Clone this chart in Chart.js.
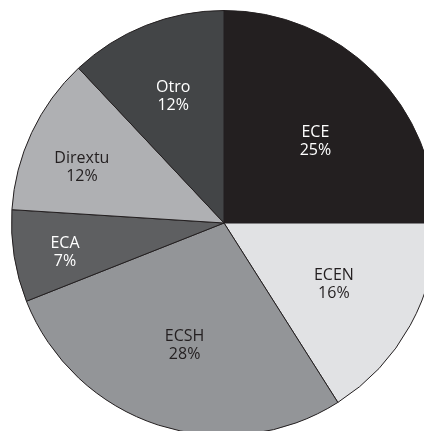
<!DOCTYPE html>
<html lang="es">
<head>
  <meta charset="UTF-8">
  <title>Distribución</title>
  <script src="https://cdn.jsdelivr.net/npm/chart.js"></script>
  <style>
    html, body {
      margin: 0;
      padding: 0;
      background: #fff;
      overflow: hidden;
      width: 424px;
      height: 431px;
    }
    #caja {
      position: absolute;
      left: 11px;
      top: 10px;
      width: 426px;
      height: 426px;
    }
  </style>
</head>
<body>
  <div id="caja"><canvas id="grafica"></canvas></div>

  <script>
    const categorias = ["ECE", "ECEN", "ECSH", "ECA", "Dirextu", "Otro"];
    const porcentajes = [25, 16, 28, 7, 12, 12];
    const colores = ["#231f20", "#e1e2e4", "#939598", "#5e5f61", "#afb0b3", "#434547"];
    const coloresTexto = ["#ffffff", "#231f20", "#231f20", "#ffffff", "#231f20", "#ffffff"];

    // etiquetas dentro de cada porción
    const etiquetas = {
      id: "etiquetas",
      afterDatasetsDraw(chart, args, opts) {
        const ctx = chart.ctx;
        const meta = chart.getDatasetMeta(0);
        ctx.save();
        ctx.font = "16px 'Open Sans', sans-serif";
        ctx.textAlign = "center";
        ctx.textBaseline = "alphabetic";
        meta.data.forEach((arc, i) => {
          const p = arc.getProps(["x", "y", "startAngle", "endAngle", "outerRadius"], true);
          const medio = (p.startAngle + p.endAngle) / 2 + opts.giro[i];
          const r = p.outerRadius * opts.factor[i];
          const x = p.x + Math.cos(medio) * r;
          const y = p.y + Math.sin(medio) * r;
          ctx.fillStyle = coloresTexto[i];
          ctx.fillText(categorias[i], x, y - 3);
          ctx.fillText(porcentajes[i] + "%", x, y + 15);
        });
        ctx.restore();
      }
    };

    new Chart(document.getElementById("grafica"), {
      type: "pie",
      data: {
        labels: categorias,
        datasets: [{
          data: porcentajes,
          backgroundColor: colores,
          borderColor: "#231f20",
          borderWidth: 1
        }]
      },
      options: {
        responsive: true,
        maintainAspectRatio: false,
        animation: false,
        layout: { padding: 0 },
        plugins: {
          legend: { display: false },
          tooltip: { enabled: false },
          etiquetas: {
            factor: [0.58, 0.59, 0.6, 0.76, 0.72, 0.65],
            giro: [0.05, 0, 0, -0.02, -0.06, 0]
          }
        }
      },
      plugins: [etiquetas]
    });
  </script>
</body>
</html>
